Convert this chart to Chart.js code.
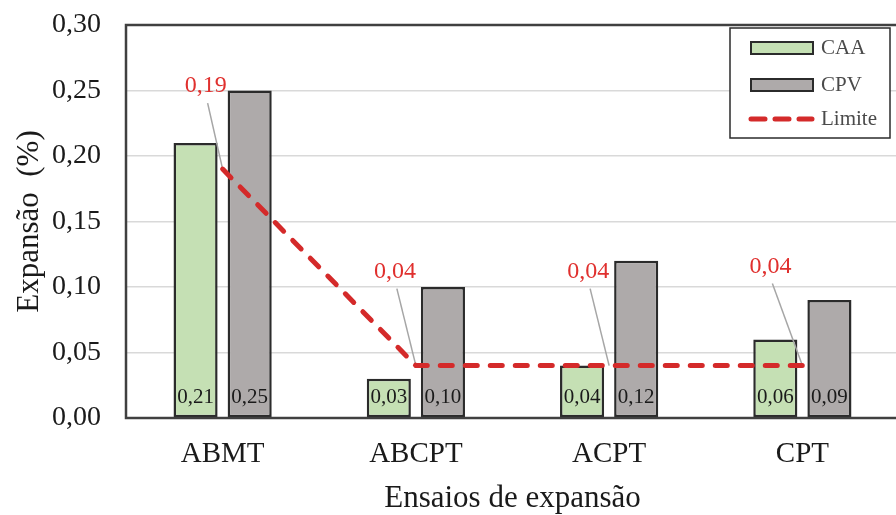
<!DOCTYPE html>
<html>
<head>
<meta charset="utf-8">
<script src="https://cdn.jsdelivr.net/npm/chart.js@4/dist/chart.umd.min.js"></script>
<style>
  html, body { margin: 0; padding: 0; background: #ffffff; overflow: hidden; }
  #wrap { width: 900px; height: 515px; }
</style>
</head>
<body>
<div id="wrap"><canvas id="c" width="900" height="515"></canvas></div>
<script>
// Expansion test results per method
const categories = ['ABMT', 'ABCPT', 'ACPT', 'CPT'];
const caaValues = [0.21, 0.03, 0.04, 0.06];
const cpvValues = [0.25, 0.10, 0.12, 0.09];
const limitValues = [0.19, 0.04, 0.04, 0.04];
const seriesNames = ['CAA', 'CPV', 'Limite'];
const yTickValues = [0, 0.05, 0.10, 0.15, 0.20, 0.25, 0.30];

// Offsets (px) of each limit callout from its point
const calloutOffsets = [[-17, -83], [-21, -94], [-21, -94], [-32, -99]];

const SERIF = "'Liberation Serif', 'Times New Roman', serif";
const fmt = v => v.toFixed(2).replace('.', ',');

const COLORS = {
  caa: '#c5e0b4',
  cpv: '#aeaaaa',
  edge: '#2b2b2b',
  red: '#d42a2a',
  redText: '#e0302e',
  leader: '#a6a6a6',
  grid: '#d9d9d9',
  frame: '#404040',
  text: '#1a1a1a'
};

const decorPlugin = {
  id: 'decor',
  beforeDatasetDraw(chart, args) {
    // leader lines from callout labels to the limit points (under the dashed line)
    if (args.meta.type !== 'line') return;
    const ctx = chart.ctx;
    ctx.save();
    ctx.strokeStyle = COLORS.leader;
    ctx.lineWidth = 1.5;
    args.meta.data.forEach((pt, i) => {
      const [dx, dy] = calloutOffsets[i];
      ctx.beginPath();
      ctx.moveTo(pt.x + dx + 2, pt.y + dy + 17);
      ctx.lineTo(pt.x, pt.y);
      ctx.stroke();
    });
    ctx.restore();
  },
  afterDatasetsDraw(chart) {
    const ctx = chart.ctx;
    const area = chart.chartArea;
    ctx.save();

    // value labels inside the bottom of each bar
    ctx.font = '21px ' + SERIF;
    ctx.fillStyle = COLORS.text;
    ctx.textAlign = 'center';
    ctx.textBaseline = 'middle';
    [0, 1].forEach(di => {
      const meta = chart.getDatasetMeta(di);
      meta.data.forEach((bar, i) => {
        ctx.fillText(fmt(chart.data.datasets[di].data[i]), bar.x, area.bottom - 21);
      });
    });

    // limit callouts
    const lineMeta = chart.getDatasetMeta(2);
    ctx.font = '24px ' + SERIF;
    ctx.fillStyle = COLORS.redText;
    lineMeta.data.forEach((pt, i) => {
      const [dx, dy] = calloutOffsets[i];
      ctx.fillText(fmt(limitValues[i]), pt.x + dx, pt.y + dy);
    });

    // plot frame
    ctx.strokeStyle = COLORS.frame;
    ctx.lineWidth = 2.5;
    ctx.strokeRect(area.left, area.top, area.right - area.left, area.bottom - area.top);

    // legend box
    const lx = 730, ly = 28, lw = 160, lh = 110;
    ctx.fillStyle = '#ffffff';
    ctx.fillRect(lx, ly, lw, lh);
    ctx.strokeStyle = COLORS.edge;
    ctx.lineWidth = 1.5;
    ctx.strokeRect(lx, ly, lw, lh);

    const rows = [48, 85, 119];
    const fills = [COLORS.caa, COLORS.cpv];
    ctx.textAlign = 'left';
    ctx.textBaseline = 'middle';
    ctx.font = '21px ' + SERIF;
    rows.forEach((ry, i) => {
      if (i < 2) {
        ctx.fillStyle = fills[i];
        ctx.fillRect(751, ry - 6, 62, 12);
        ctx.strokeStyle = COLORS.edge;
        ctx.lineWidth = 2;
        ctx.strokeRect(751, ry - 6, 62, 12);
      } else {
        ctx.strokeStyle = COLORS.red;
        ctx.lineWidth = 5;
        ctx.lineCap = 'round';
        ctx.setLineDash([14, 10]);
        ctx.beginPath();
        ctx.moveTo(751, ry);
        ctx.lineTo(812, ry);
        ctx.stroke();
        ctx.setLineDash([]);
        ctx.lineCap = 'butt';
      }
      ctx.fillStyle = '#4a4a4a';
      ctx.fillText(seriesNames[i], 821, ry);
    });

    ctx.restore();
  }
};

new Chart(document.getElementById('c'), {
  type: 'bar',
  data: {
    labels: categories,
    datasets: [
      {
        label: seriesNames[0],
        data: caaValues,
        backgroundColor: COLORS.caa,
        borderColor: COLORS.edge,
        borderWidth: 2.5,
        borderSkipped: false,
        categoryPercentage: 0.56,
        barPercentage: 0.815,
        order: 1
      },
      {
        label: seriesNames[1],
        data: cpvValues,
        backgroundColor: COLORS.cpv,
        borderColor: COLORS.edge,
        borderWidth: 2.5,
        borderSkipped: false,
        categoryPercentage: 0.56,
        barPercentage: 0.815,
        order: 1
      },
      {
        type: 'line',
        label: seriesNames[2],
        data: limitValues,
        borderColor: COLORS.red,
        borderWidth: 5,
        borderDash: [12, 13],
        borderCapStyle: 'round',
        pointRadius: 0,
        fill: false,
        tension: 0,
        order: 0
      }
    ]
  },
  options: {
    responsive: false,
    animation: false,
    devicePixelRatio: 1,
    layout: { padding: { left: 0, right: 1, top: 25, bottom: 0 } },
    plugins: {
      legend: { display: false },
      tooltip: { enabled: false }
    },
    scales: {
      x: {
        grid: { display: false, drawTicks: false },
        border: { display: false },
        ticks: {
          font: { family: SERIF, size: 29 },
          color: COLORS.text,
          padding: 19
        },
        title: {
          display: true,
          text: 'Ensaios de expansão',
          font: { family: SERIF, size: 31 },
          color: COLORS.text,
          padding: { top: 0, bottom: -2 }
        },
        afterFit: s => { s.height = 97; }
      },
      y: {
        min: 0,
        max: 0.30,
        afterBuildTicks: s => { s.ticks = yTickValues.map(v => ({ value: v })); },
        grid: { color: COLORS.grid, lineWidth: 1.5, drawTicks: false },
        border: { display: false },
        ticks: {
          font: { family: SERIF, size: 28 },
          color: COLORS.text,
          padding: 25,
          callback: v => fmt(v)
        },
        title: {
          display: true,
          text: 'Expansão  (%)',
          font: { family: SERIF, size: 31 },
          color: COLORS.text,
          padding: { top: 11, bottom: 0 }
        },
        afterFit: s => { s.width = 126; s.paddingTop = 0; s.paddingBottom = 0; }
      }
    }
  },
  plugins: [decorPlugin]
});
</script>
</body>
</html>
